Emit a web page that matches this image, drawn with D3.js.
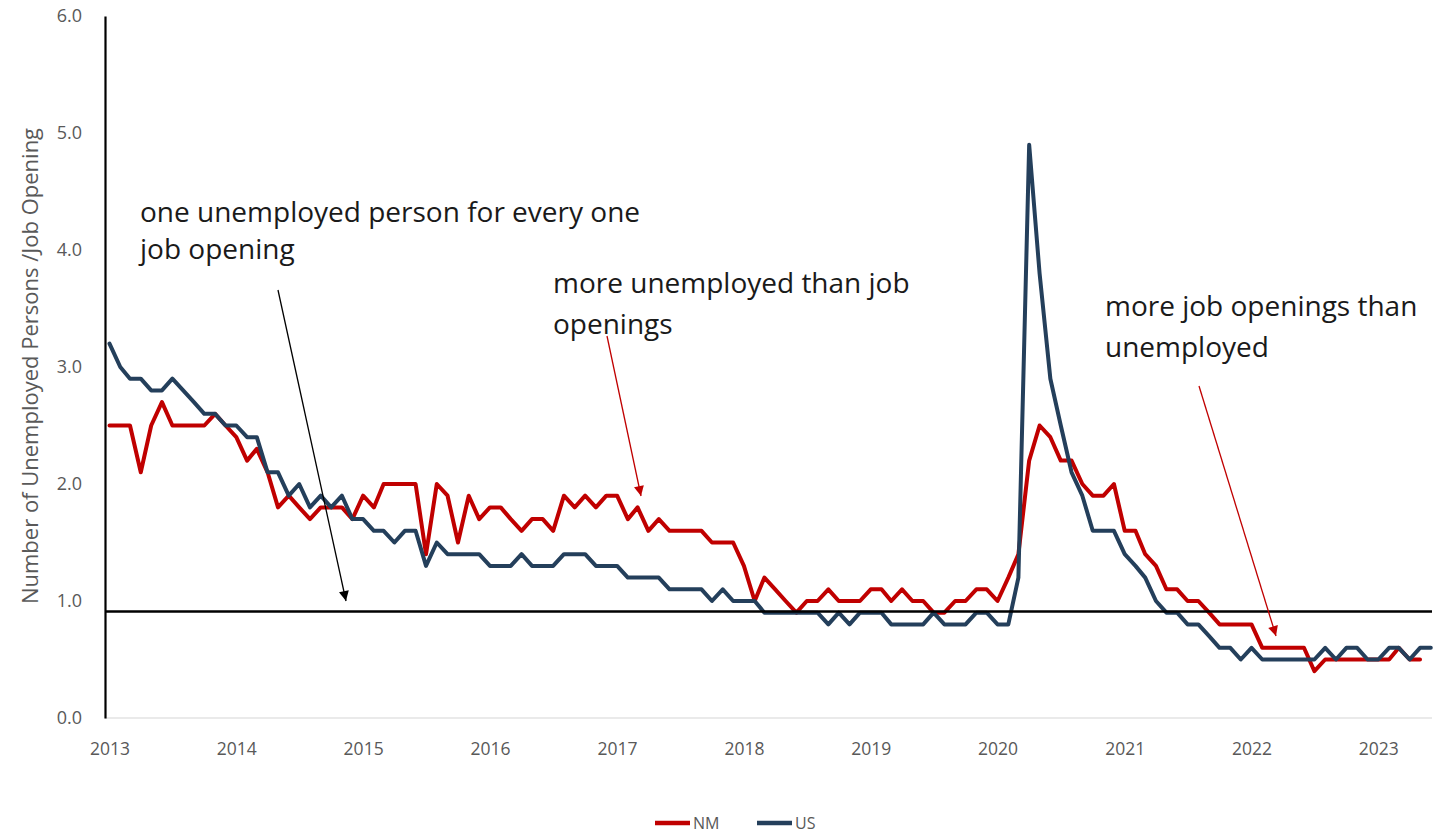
<!DOCTYPE html>
<html><head><meta charset="utf-8">
<script src="https://cdn.jsdelivr.net/npm/d3@7"></script>
<style>
html,body{margin:0;padding:0;background:#fff;}
svg{display:block;}
text{font-family:"Open Sans",sans-serif;}
</style></head><body>
<svg id="chart" width="1448" height="833"></svg>
<script>
// ---------- data ----------
const seriesNames = ["NM", "US"];
const seriesColors = ["#C00000", "#243F5B"];
const nmValues = [
  2.5,2.5,2.5,2.1,2.5,2.7,2.5,2.5,2.5,2.5,2.6,2.5,
  2.4,2.2,2.3,2.1,1.8,1.9,1.8,1.7,1.8,1.8,1.8,1.7,
  1.9,1.8,2.0,2.0,2.0,2.0,1.4,2.0,1.9,1.5,1.9,1.7,
  1.8,1.8,1.7,1.6,1.7,1.7,1.6,1.9,1.8,1.9,1.8,1.9,
  1.9,1.7,1.8,1.6,1.7,1.6,1.6,1.6,1.6,1.5,1.5,1.5,
  1.3,1.0,1.2,1.1,1.0,0.9,1.0,1.0,1.1,1.0,1.0,1.0,
  1.1,1.1,1.0,1.1,1.0,1.0,0.9,0.9,1.0,1.0,1.1,1.1,
  1.0,1.2,1.4,2.2,2.5,2.4,2.2,2.2,2.0,1.9,1.9,2.0,
  1.6,1.6,1.4,1.3,1.1,1.1,1.0,1.0,0.9,0.8,0.8,0.8,
  0.8,0.6,0.6,0.6,0.6,0.6,0.4,0.5,0.5,0.5,0.5,0.5,
  0.5,0.5,0.6,0.5,0.5
];
const usValues = [
  3.2,3.0,2.9,2.9,2.8,2.8,2.9,2.8,2.7,2.6,2.6,2.5,
  2.5,2.4,2.4,2.1,2.1,1.9,2.0,1.8,1.9,1.8,1.9,1.7,
  1.7,1.6,1.6,1.5,1.6,1.6,1.3,1.5,1.4,1.4,1.4,1.4,
  1.3,1.3,1.3,1.4,1.3,1.3,1.3,1.4,1.4,1.4,1.3,1.3,
  1.3,1.2,1.2,1.2,1.2,1.1,1.1,1.1,1.1,1.0,1.1,1.0,
  1.0,1.0,0.9,0.9,0.9,0.9,0.9,0.9,0.8,0.9,0.8,0.9,
  0.9,0.9,0.8,0.8,0.8,0.8,0.9,0.8,0.8,0.8,0.9,0.9,
  0.8,0.8,1.2,4.9,3.8,2.9,2.5,2.1,1.9,1.6,1.6,1.6,
  1.4,1.3,1.2,1.0,0.9,0.9,0.8,0.8,0.7,0.6,0.6,0.5,
  0.6,0.5,0.5,0.5,0.5,0.5,0.5,0.6,0.5,0.6,0.6,0.5,
  0.5,0.6,0.6,0.5,0.6,0.6
];
const yearLabels = ["2013","2014","2015","2016","2017","2018","2019","2020","2021","2022","2023"];
const yTickValues = [0, 1, 2, 3, 4, 5, 6];
const referenceLevel = 0.91;
const yAxisTitle = "Number of Unemployed Persons /Job Opening";
const noteTexts = [
  ["one unemployed person for every one", "job opening"],
  ["more unemployed than job", "openings"],
  ["more job openings than", "unemployed"]
];

// ---------- scales ----------
const months = d3.timeMonth.range(new Date(2013, 0, 1), new Date(2023, 6, 1));
const svg = d3.select("#chart");
const x = d3.scaleTime().domain([months[0], months[months.length - 1]]).range([109.5, 1430.8]);
const y = d3.scaleLinear().domain([0, 6]).range([718, 16]);
const plotLeft = 105, plotRight = 1432;

// ---------- axes ----------
svg.append("line").attr("x1", plotLeft).attr("x2", plotRight)
  .attr("y1", y(0)).attr("y2", y(0)).attr("stroke", "#e3e3e3").attr("stroke-width", 1.5);

const yAxis = svg.append("g").attr("transform", `translate(${plotLeft},0)`)
  .call(d3.axisLeft(y).tickValues(yTickValues).tickFormat(d3.format(".1f")).tickSize(0).tickSizeOuter(0).tickPadding(23));
yAxis.select(".domain").attr("stroke", "#000").attr("stroke-width", 2.2);
yAxis.selectAll("text").attr("fill", "#595959").style("font-size", "18px").style("font-family", "Open Sans, sans-serif");

const xAxis = svg.append("g").attr("transform", `translate(0,${y(0)})`)
  .call(d3.axisBottom(x).tickValues(yearLabels.map(l => new Date(+l, 0, 1)))
    .tickFormat(d3.timeFormat("%Y")).tickSize(0).tickPadding(25));
xAxis.select(".domain").remove();
xAxis.selectAll("text").attr("fill", "#595959").style("font-size", "17.5px").style("font-family", "Open Sans, sans-serif");

svg.append("text")
  .attr("transform", `translate(38,${366}) rotate(-90)`)
  .attr("text-anchor", "middle").attr("fill", "#595959")
  .style("font-size", "22px").text(yAxisTitle);

// ---------- series ----------
const line = d3.line().x((d, i) => x(months[i])).y(d => y(d));
[nmValues, usValues].forEach((vals, k) => {
  svg.append("path").datum(vals).attr("d", line)
    .attr("fill", "none").attr("stroke", seriesColors[k]).attr("stroke-width", 4)
    .attr("stroke-linejoin", "round").attr("stroke-linecap", "round");
});

// reference line
svg.append("line").attr("x1", plotLeft).attr("x2", plotRight)
  .attr("y1", y(referenceLevel)).attr("y2", y(referenceLevel))
  .attr("stroke", "#000").attr("stroke-width", 2.5);

// ---------- annotations ----------
const defs = svg.append("defs");
function marker(id, color) {
  defs.append("marker").attr("id", id).attr("viewBox", "0 0 10 10")
    .attr("refX", 10).attr("refY", 5).attr("markerWidth", 12).attr("markerHeight", 10)
    .attr("markerUnits", "userSpaceOnUse").attr("orient", "auto")
    .append("path").attr("d", "M0,0 L10,5 L0,10 Z").attr("fill", color);
}
marker("arrBlack", "#000");
marker("arrRed", "#C00000");

const notes = [
  { lines: noteTexts[0], tx: 140, ty: 222, arrow: [278, 290, 346, 601], color: "#000", m: "arrBlack" },
  { lines: noteTexts[1], tx: 553, ty: 293, arrow: [607, 336, 641, 496], color: "#C00000", m: "arrRed" },
  { lines: noteTexts[2], tx: 1105, ty: 316, arrow: [1199, 386, 1276, 636], color: "#C00000", m: "arrRed" }
];
notes.forEach((n, k) => {
  const t = svg.append("text").attr("x", n.tx).attr("y", n.ty).attr("fill", "#1a1a1a").style("font-size", "28px");
  n.lines.forEach((s, i) => t.append("tspan").attr("x", n.tx).attr("dy", i === 0 ? 0 : (k === 0 ? 37 : 41)).text(s));
  svg.append("line").attr("x1", n.arrow[0]).attr("y1", n.arrow[1]).attr("x2", n.arrow[2]).attr("y2", n.arrow[3])
    .attr("stroke", n.color).attr("stroke-width", 1.3).attr("marker-end", `url(#${n.m})`);
});

// ---------- legend ----------
const legend = svg.append("g");
const legendX = [655, 757];
seriesNames.forEach((name, k) => {
  legend.append("line").attr("x1", legendX[k]).attr("x2", legendX[k] + 35).attr("y1", 823).attr("y2", 823)
    .attr("stroke", seriesColors[k]).attr("stroke-width", 4.5);
  legend.append("text").attr("x", legendX[k] + 38).attr("y", 829).attr("fill", "#595959")
    .style("font-size", "16px").text(name);
});
</script>
</body></html>
